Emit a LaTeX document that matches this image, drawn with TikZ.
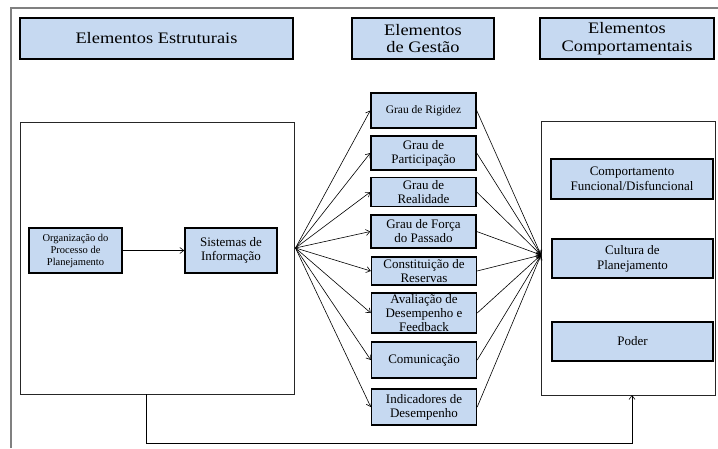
\documentclass[tikz,border=0pt]{standalone}
\usepackage{fontspec}
\setmainfont{Liberation Serif}
\newfontfamily\hfont{Liberation Serif}[FakeStretch=1.15]
\usetikzlibrary{arrows.meta}
\definecolor{boxblue}{HTML}{C6D9F1}
\definecolor{framegray}{HTML}{808080}
\tikzset{
  hbox/.style={draw=black, line width=1.4pt, fill=boxblue, inner sep=0pt, align=center,
    font=\hfont\fontsize{16}{17.5}\selectfont},
  mbox/.style={draw=black, line width=1.4pt, fill=boxblue, inner sep=0pt, align=center,
    minimum width=105pt, font=\fontsize{13}{14}\selectfont},
  rbox/.style={draw=black, line width=1.4pt, fill=boxblue, inner sep=0pt, align=center,
    font=\fontsize{13}{15}\selectfont},
  bigbox/.style={draw=black!85, line width=0.8pt, inner sep=0pt},
  conn/.style={draw=black, line width=0.6pt, -{Straight Barb[length=4pt,width=6pt]}},
}
\begin{document}
\begin{tikzpicture}[x=1pt,y=-1pt]
\useasboundingbox (0,0) rectangle (718,448);
% outer frame (cropped at right and bottom)
\draw[framegray, line width=1.2pt] (11,448) -- (11,8) -- (718,8);

% headers
\node[hbox, minimum width=273pt, minimum height=41pt] (h1) at (156.5,38.5) {Elementos Estruturais};
\node[hbox, minimum width=142pt, minimum height=41pt] (h2) at (423,38.5) {Elementos\\de Gestão};
\node[hbox, minimum width=174pt, minimum height=41pt] (h3) at (627,38.5) {Elementos\\Comportamentais};

% big boxes
\node[bigbox, minimum width=274pt, minimum height=272pt] (L) at (157,258) {};
\node[bigbox, minimum width=174pt, minimum height=274pt] (R) at (628,258) {};

% left content
\node[hbox, minimum width=93pt, minimum height=45pt, font=\fontsize{10.5}{12}\selectfont] (org) at (75.5,250.5) {Organização do\\Processo de\\Planejamento};
\node[hbox, minimum width=92pt, minimum height=45pt, font=\fontsize{13}{14}\selectfont] (sis) at (231,250.5) {Sistemas de\\Informação};
\draw[conn] (org) -- (sis);

% middle boxes
\node[mbox, minimum height=35pt, font=\fontsize{11.5}{13}\selectfont] (m1) at (423.5,110.5) {Grau de Rigidez};
\node[mbox, minimum height=34pt] (m2) at (423.5,153) {Grau de\\Participação};
\node[mbox, minimum height=29pt] (m3) at (423.5,192) {Grau de\\Realidade};
\node[mbox, minimum height=33pt] (m4) at (423.5,231.5) {Grau de Força\\do Passado};
\node[mbox, minimum height=28pt] (m5) at (424,271) {Constituição de\\Reservas};
\node[mbox, minimum height=40pt] (m6) at (424,313) {Avaliação de\\Desempenho e\\Feedback};
\node[mbox, minimum height=36pt] (m7) at (424,360) {Comunicação};
\node[mbox, minimum height=36pt] (m8) at (424,407) {Indicadores de\\Desempenho};

% right content
\node[rbox, minimum width=162pt, minimum height=40pt] (r1) at (632,179) {Comportamento\\Funcional/Disfuncional};
\node[rbox, minimum width=161pt, minimum height=39pt] (r2) at (632.5,258.5) {Cultura de\\Planejamento};
\node[rbox, minimum width=161pt, minimum height=39pt] (r3) at (632.5,341.5) {Poder};

% fan points
\coordinate (fanL) at (295.5,248);
\coordinate (fanR) at (541,255);
\foreach \m in {m1,m2,m3,m4,m5,m6,m7,m8}{
  \draw[conn] (fanL) -- (\m.west);
  \draw[conn] (\m.east) -- (fanR);
}

% bottom connector
\coordinate (bl) at (146,394);
\coordinate (br) at (632,395);
\draw[conn] (bl) -- ++(0,49) -| (br);
\end{tikzpicture}
\end{document}
